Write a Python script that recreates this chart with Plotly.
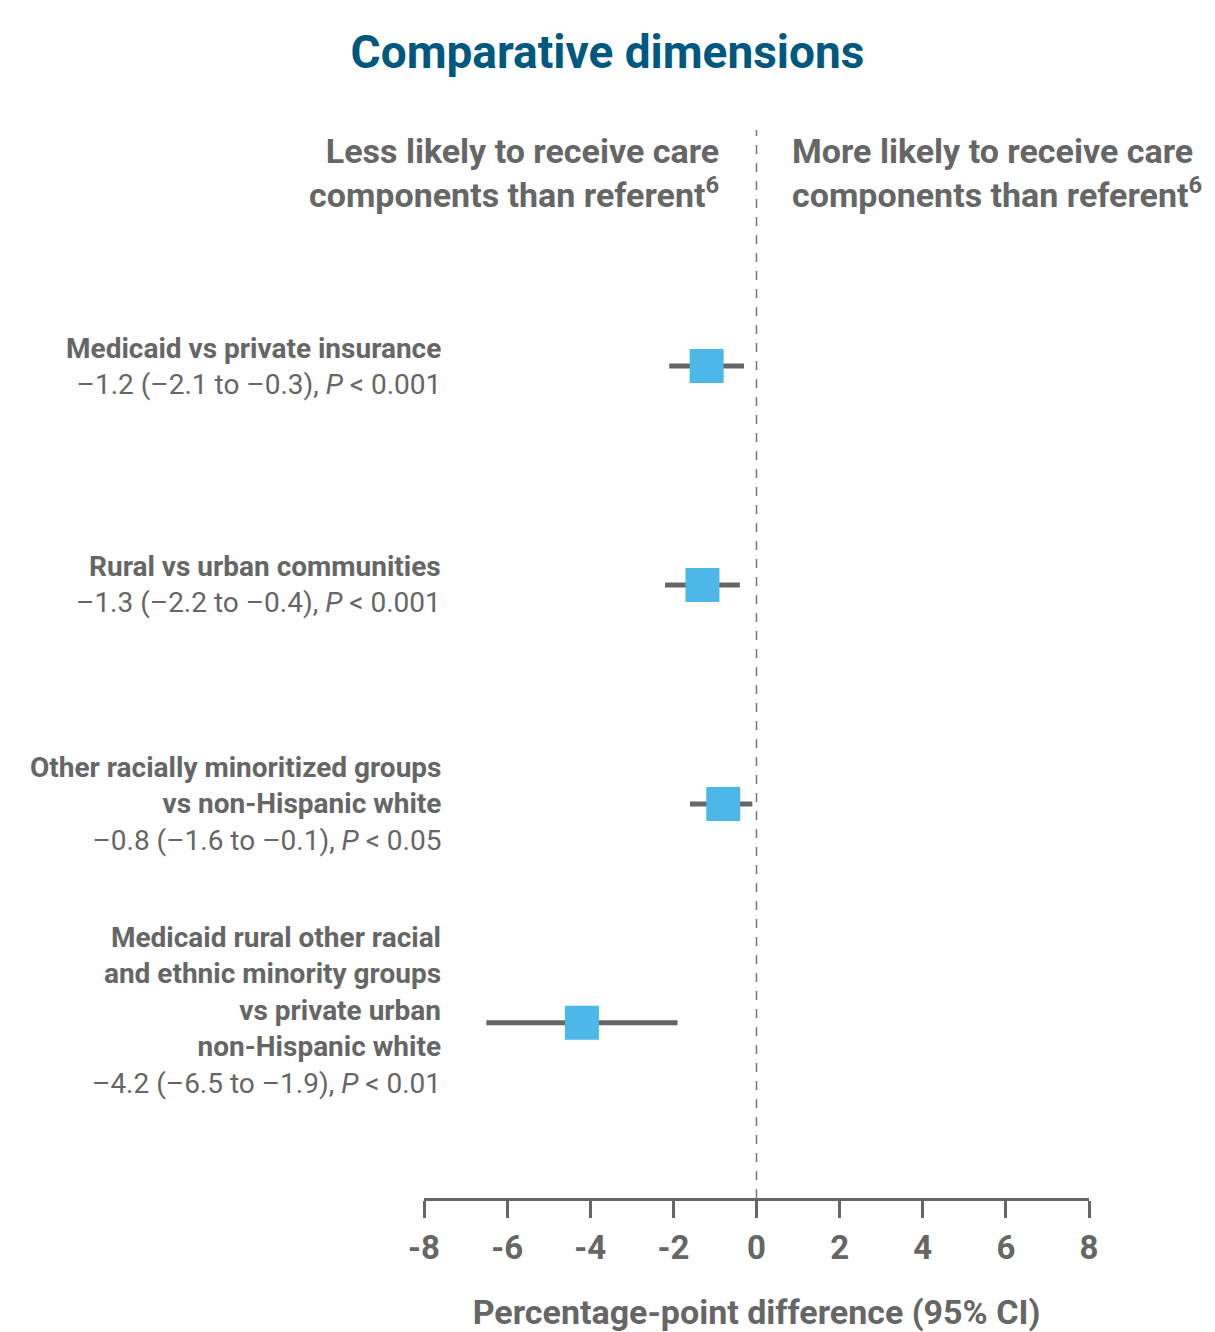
import plotly.graph_objects as go

# Comparisons shown as forest-plot rows (top to bottom)
comparisons = [
    "Medicaid vs private insurance",
    "Rural vs urban communities",
    "Other racially minoritized groups<br>vs non-Hispanic white",
    "Medicaid rural other racial<br>and ethnic minority groups<br>vs private urban<br>non-Hispanic white",
]
estimate = [-1.2, -1.3, -0.8, -4.2]
ci_low = [-2.1, -2.2, -1.6, -6.5]
ci_high = [-0.3, -0.4, -0.1, -1.9]
p_value_text = ["< 0.001", "< 0.001", "< 0.05", "< 0.01"]

x_ticks = [-8, -6, -4, -2, 0, 2, 4, 6, 8]

FONT = "Roboto, Arial, sans-serif"
GREY = "#666666"
BLUE = "#4DB8E8"
TITLE_BLUE = "#00587F"

rows = list(range(len(comparisons)))


def fmt(v):
    s = f"{v:.1f}"
    return s.replace("-", "\u2013")


fig = go.Figure()

fig.add_trace(go.Scatter(
    x=estimate,
    y=rows,
    mode="markers",
    marker=dict(symbol="square", size=34, color=BLUE, line=dict(width=0)),
    error_x=dict(
        type="data",
        symmetric=False,
        array=[h - e for h, e in zip(ci_high, estimate)],
        arrayminus=[e - l for e, l in zip(estimate, ci_low)],
        thickness=5,
        width=0,
        color=GREY,
    ),
    hoverinfo="skip",
    showlegend=False,
))

# Zero reference line
fig.add_shape(type="line", xref="x", yref="paper", x0=0, x1=0, y0=0, y1=1,
              line=dict(color="#777777", width=1.5, dash="dash"))

# Row labels: bold comparison name followed by estimate, CI and P value
row_shift = [0, 0, 0, 12]
for i, name in enumerate(comparisons):
    stats = f"{fmt(estimate[i])} ({fmt(ci_low[i])} to {fmt(ci_high[i])}), <i>P</i> {p_value_text[i]}"
    fig.add_annotation(
        xref="paper", yref="y", x=0.0286, y=rows[i],
        xanchor="right", yanchor="middle", align="right",
        text=f"<b>{name}</b><br>{stats}",
        showarrow=False, yshift=row_shift[i],
        font=dict(family=FONT, size=28, color=GREY),
    )

# Direction headers above the plot
fig.add_annotation(
    xref="x", yref="paper", x=-0.85, y=0.96, xanchor="right", yanchor="middle",
    align="right", showarrow=False,
    text="<b>Less likely to receive care<br>components than referent<sup>6</sup></b>",
    font=dict(family=FONT, size=34, color=GREY),
)
fig.add_annotation(
    xref="x", yref="paper", x=0.8, y=0.96, xanchor="left", yanchor="middle",
    align="left", showarrow=False,
    text="<b>More likely to receive care<br>components than referent<sup>6</sup></b>",
    font=dict(family=FONT, size=34, color=GREY),
)

fig.update_layout(
    width=1215, height=1332,
    margin=dict(l=424, r=126, t=130, b=134),
    paper_bgcolor="white", plot_bgcolor="white",
    title=dict(
        text="<b>Comparative dimensions</b>",
        x=0.5, xanchor="center", y=1 - 52 / 1332, yanchor="middle",
        font=dict(family=FONT, size=46, color=TITLE_BLUE),
    ),
    xaxis=dict(
        range=[-8, 8], tickvals=x_ticks, ticktext=[f"<b>{t}</b>" for t in x_ticks],
        showgrid=False, zeroline=False, automargin=False,
        showline=True, linecolor=GREY, linewidth=3,
        ticks="outside", ticklen=17, tickwidth=3, tickcolor=GREY,
        ticklabelstandoff=1,
        tickfont=dict(family=FONT, size=33, color=GREY),
        title=dict(text="<b>Percentage-point difference (95% CI)</b>",
                   font=dict(family=FONT, size=34, color=GREY), standoff=36),
        fixedrange=True,
    ),
    yaxis=dict(
        range=[3.80, -1.078], visible=False, showgrid=False, zeroline=False,
        fixedrange=True, automargin=False,
    ),
)

fig.write_html("out.html")
